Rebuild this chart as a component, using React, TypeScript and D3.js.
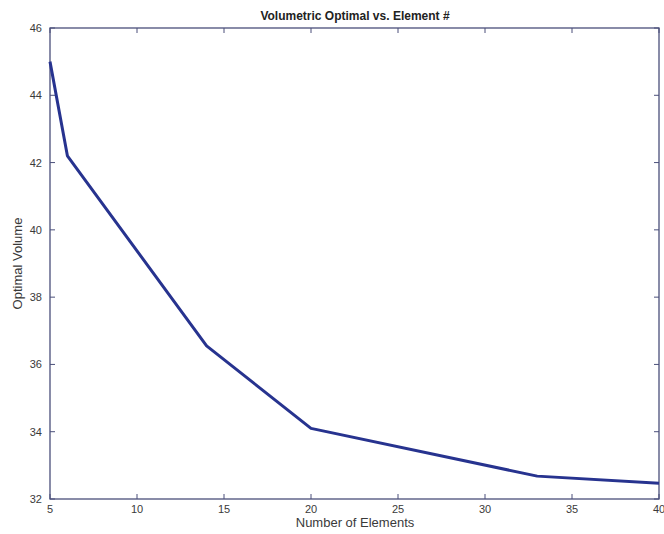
import React from 'react';
import * as d3 from 'd3';

const elements = [5, 6, 14, 20, 33, 40];
const volumes = [45.0, 42.2, 36.55, 34.1, 32.68, 32.47];
const xTickValues = [5, 10, 15, 20, 25, 30, 35, 40];
const yTickValues = [32, 34, 36, 38, 40, 42, 44, 46];

const width = 664;
const height = 534;
const margin = { top: 28, right: 5, bottom: 35, left: 50 };
const tickLen = 5;
const axisColor = '#4a4f7a';
const textColor = '#3a3a3a';

export default function App() {
  const x = d3.scaleLinear().domain([5, 40]).range([margin.left, width - margin.right]);
  const y = d3.scaleLinear().domain([32, 46]).range([height - margin.bottom, margin.top]);

  const points = elements.map((e, i) => ({ e, v: volumes[i] }));
  const line = d3
    .line<{ e: number; v: number }>()
    .x((d) => x(d.e))
    .y((d) => y(d.v));

  const x0 = margin.left;
  const x1 = width - margin.right;
  const y0 = height - margin.bottom;
  const y1 = margin.top;

  return (
    <svg
      width={width}
      height={height}
      style={{ position: 'absolute', left: 0, top: 0, fontFamily: 'Liberation Sans, Arial, sans-serif' }}
    >
      <rect x={0} y={0} width={width} height={height} fill="#fff" />

      {/* frame */}
      <rect x={x0} y={y1} width={x1 - x0} height={y0 - y1} fill="none" stroke={axisColor} strokeWidth={1.3} />

      {/* x ticks, bottom and top */}
      {xTickValues.map((t) => (
        <g key={`xt-${t}`}>
          <line x1={x(t)} x2={x(t)} y1={y0} y2={y0 - tickLen} stroke={axisColor} strokeWidth={1} />
          <line x1={x(t)} x2={x(t)} y1={y1} y2={y1 + tickLen} stroke={axisColor} strokeWidth={1} />
          <text x={x(t)} y={y0 + 14} fontSize={11} fill={textColor} textAnchor="middle">
            {t}
          </text>
        </g>
      ))}

      {/* y ticks, left and right */}
      {yTickValues.map((t) => (
        <g key={`yt-${t}`}>
          <line x1={x0} x2={x0 + tickLen} y1={y(t)} y2={y(t)} stroke={axisColor} strokeWidth={1} />
          <line x1={x1} x2={x1 - tickLen} y1={y(t)} y2={y(t)} stroke={axisColor} strokeWidth={1} />
          <text x={x0 - 8} y={y(t) + 4} fontSize={11} fill={textColor} textAnchor="end">
            {t}
          </text>
        </g>
      ))}

      <path d={line(points) ?? ''} fill="none" stroke="#27338f" strokeWidth={3} strokeLinejoin="round" />

      <text x={355} y={20} fontSize={12} fontWeight="bold" fill="#222" textAnchor="middle">
        Volumetric Optimal vs. Element #
      </text>
      <text x={355} y={527} fontSize={13} fill={textColor} textAnchor="middle">
        Number of Elements
      </text>
      <text
        transform={`translate(22, ${(y0 + y1) / 2}) rotate(-90)`}
        fontSize={13}
        fill={textColor}
        textAnchor="middle"
      >
        Optimal Volume
      </text>
    </svg>
  );
}
